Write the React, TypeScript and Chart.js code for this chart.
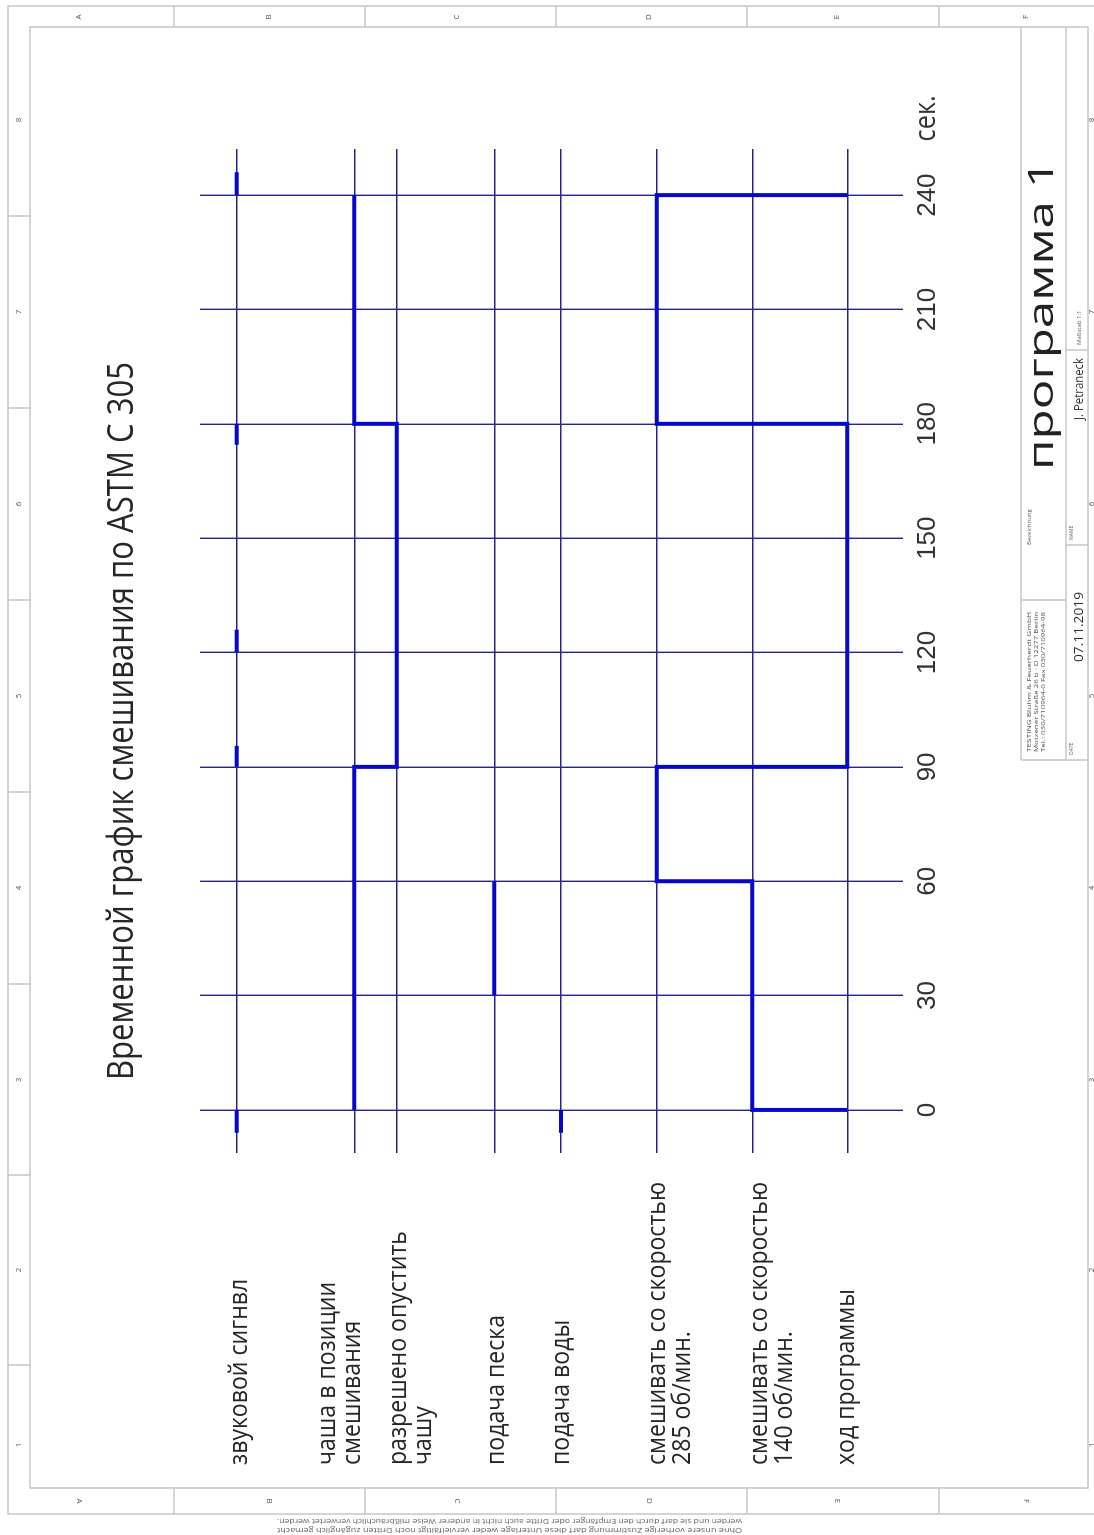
import React, { useEffect, useRef } from "react";
import { Chart, registerables } from "chart.js";

Chart.register(...registerables);

// ---------------- data ----------------
const title = "Временной график смешивания по ASTM C 305";
const laneLabels: string[][] = [
  ["звуковой сигнвл"],
  ["чаша в позиции", "смешивания"],
  ["разрешено опустить", "чашу"],
  ["подача песка"],
  ["подача воды"],
  ["смешивать со скоростью", "285 об/мин."],
  ["смешивать со скоростью", "140 об/мин."],
  ["ход программы"],
];
const timeTicks = [0, 30, 60, 90, 120, 150, 180, 210, 240];
const timeUnit = "сек.";
// short sound pulses [start, end] in seconds (lane 0)
const soundPulses: [number, number][] = [
  [-6, 0],
  [90, 95.5],
  [120, 126],
  [174.5, 180],
  [240, 246],
];
// bowl: lane index taken from each change time
const bowlTimes = [0, 90, 180, 240];
const bowlLanes = [1, 2, 1, 1];
// sand feed interval (lane 3)
const sandInterval = [30, 60];
// water feed interval (lane 4)
const waterInterval = [-6, 0];
// mixer speed state: lane index from each change time
const mixerTimes = [0, 0, 60, 90, 180, 240];
const mixerLanes = [7, 6, 5, 7, 5, 7];

const programName = "программа 1";
const author = "J. Petraneck";
const drawDate = "07.11.2019";
const scaleText = "Maßstab 1:1";
const company = [
  "TESTING Bluhm & Feuerherdt GmbH",
  "Motzener Straße 26 b · D 12277 Berlin",
  "Tel.: 030/710964-0 Fax 030/710964-98",
];
const disclaimer = [
  "Ohne unsere vorherige Zustimmung darf diese Unterlage weder vervielfältigt noch Dritten zugänglich gemacht",
  "werden und sie darf durch den Empfänger oder Dritte auch nicht in anderer Weise mißbräuchlich verwertet werden.",
];
const zoneLetters = ["A", "B", "C", "D", "E", "F"];
const zoneNumbers = ["8", "7", "6", "5", "4", "3", "2", "1"];

// ---------------- layout (not data) ----------------
const PAGE_W = 1094;
const PAGE_H = 1535;
const CW = PAGE_H; // canvas is drawn landscape and rotated
const CH = PAGE_W;
const LANE_BAND = 703;
const LANE_POS = [36.7, 154.3, 196.7, 294.3, 361, 456.7, 552.3, 647.3];
const LABEL_FIRST = [3, -26, 2, 3, 1, 1, 8, 0];
const LABEL_GAP = 25;
const ZONE_X_SEP = [174, 365, 556, 747, 939];
const ZONE_X_MID = [79, 269, 457, 649, 837, 1026];
const ZONE_Y_SEP = [216, 408, 600, 792, 984, 1175, 1365];
const ZONE_Y_MID = [120, 312, 504, 696, 888, 1080, 1270, 1445];

const FRAME = "#c6c6c6";
const GRID = "#25258c";
const SIGNAL = "#0707cc";
const TEXT = "#262626";
const FONT = '"Open Sans", "DejaVu Sans", sans-serif';
const NUM_FONT = '"Liberation Sans Narrow", "Liberation Sans", sans-serif';

type TOpt = {
  size: number;
  family?: string;
  rot?: number;
  align?: CanvasTextAlign;
  baseline?: CanvasTextBaseline;
  color?: string;
  width?: number;
  sx?: number;
};

function drawText(ctx: CanvasRenderingContext2D, text: string, x: number, y: number, o: TOpt) {
  ctx.save();
  ctx.translate(x, y);
  if (o.rot) ctx.rotate((o.rot * Math.PI) / 180);
  ctx.font = `${o.size}px ${o.family || FONT}`;
  ctx.fillStyle = o.color || TEXT;
  ctx.textAlign = o.align || "left";
  ctx.textBaseline = o.baseline || "alphabetic";
  if (o.width) {
    const w = ctx.measureText(text).width;
    if (w > 0) ctx.scale(o.width / w, 1);
  } else if (o.sx) {
    ctx.scale(o.sx, 1);
  }
  ctx.fillText(text, 0, 0);
  ctx.restore();
}

// page (portrait) coordinates -> canvas (landscape) coordinates
const cx = (py: number) => PAGE_H - py;
const cy = (px: number) => px;

function pageLine(ctx: CanvasRenderingContext2D, x1: number, y1: number, x2: number, y2: number) {
  ctx.beginPath();
  ctx.moveTo(cx(y1), cy(x1));
  ctx.lineTo(cx(y2), cy(x2));
  ctx.stroke();
}

function pageRect(ctx: CanvasRenderingContext2D, x1: number, y1: number, x2: number, y2: number) {
  ctx.strokeRect(cx(y2), cy(x1), y2 - y1, x2 - x1);
}

const framePlugin = {
  id: "drawingFrame",
  beforeDraw(chart: any) {
    const ctx: CanvasRenderingContext2D = chart.ctx;
    ctx.save();
    ctx.fillStyle = "#ffffff";
    ctx.fillRect(0, 0, chart.width, chart.height);
    ctx.strokeStyle = FRAME;
    ctx.lineWidth = 1.5;
    pageRect(ctx, 8, 6, 1120, 1514);
    pageRect(ctx, 30, 27, 1088, 1488);
    ZONE_X_SEP.forEach((x) => {
      pageLine(ctx, x, 6, x, 27);
      pageLine(ctx, x, 1488, x, 1514);
    });
    ZONE_Y_SEP.forEach((y) => {
      pageLine(ctx, 8, y, 30, y);
    });
    zoneLetters.forEach((l, i) => {
      drawText(ctx, l, cx(17), cy(ZONE_X_MID[i]), { size: 8, align: "center", baseline: "middle", color: "#555" });
      drawText(ctx, l, cx(1501), cy(ZONE_X_MID[i]), { size: 8, align: "center", baseline: "middle", color: "#555", rot: 180 });
    });
    zoneNumbers.forEach((n, i) => {
      drawText(ctx, n, cx(ZONE_Y_MID[i]), cy(19), { size: 8, align: "center", baseline: "middle", color: "#555" });
      drawText(ctx, n, cx(ZONE_Y_MID[i]), cy(1092), { size: 8, align: "center", baseline: "middle", color: "#555" });
    });
    // title block
    pageLine(ctx, 1021, 27, 1021, 760);
    pageLine(ctx, 1066, 27, 1066, 760);
    pageLine(ctx, 1021, 760, 1088, 760);
    pageLine(ctx, 1021, 600, 1066, 600);
    pageLine(ctx, 1066, 350, 1088, 350);
    pageLine(ctx, 1066, 545, 1088, 545);
    ctx.restore();
  },
  afterDraw(chart: any) {
    const ctx: CanvasRenderingContext2D = chart.ctx;
    const xs = chart.scales.x;
    const ys = chart.scales.y;
    ctx.save();
    // title
    drawText(ctx, title, cx(1080), 133, { size: 36, width: 718 });
    // lane labels
    ctx.font = `25px ${FONT}`;
    const ref = ctx.measureText("смешивать со скоростью").width;
    const sx = 283 / ref;
    laneLabels.forEach((lines, i) => {
      const base = ys.getPixelForValue(LANE_POS[i]) + LABEL_FIRST[i];
      lines.forEach((t, j) => {
        drawText(ctx, t, cx(1465), base + j * LABEL_GAP + 7, { size: 25, sx });
      });
    });
    // unit after the last tick
    const tickY = xs.top + 9 + 13;
    drawText(ctx, timeUnit, xs.getPixelForValue(252) + 8, tickY + 10, { size: 30, width: 46, color: "#333" });
    // title block texts
    drawText(ctx, programName, cx(470), cy(1053), { size: 34, width: 310, color: "#222" });
    drawText(ctx, scaleText, cx(345), cy(1081), { size: 6, color: "#666" });
    drawText(ctx, author, cx(420), cy(1083), { size: 12, width: 62, color: "#333" });
    drawText(ctx, "NAME", cx(540), cy(1073), { size: 5, color: "#666" });
    drawText(ctx, "Bezeichnung", cx(545), cy(1031), { size: 6, color: "#666" });
    company.forEach((t, i) => {
      drawText(ctx, t, cx(752), cy(1031 + i * 7), { size: 5.5, width: 140, color: "#555" });
    });
    drawText(ctx, drawDate, cx(662), cy(1083), { size: 13, width: 70, color: "#333" });
    drawText(ctx, "DATE", cx(755), cy(1073), { size: 5, color: "#666" });
    // disclaimer (upside down on the page)
    disclaimer.forEach((t, i) => {
      drawText(ctx, t, cx(1530 - i * 9), cy(742), { size: 8, width: 465, rot: -90, baseline: "middle", color: "#666" });
    });
    ctx.restore();
  },
};

const thick = {
  borderColor: SIGNAL,
  borderWidth: 4,
  pointRadius: 0,
  borderCapStyle: "butt" as const,
  borderJoinStyle: "miter" as const,
  fill: false,
  tension: 0,
};

export default function App() {
  const ref = useRef<HTMLCanvasElement | null>(null);

  useEffect(() => {
    if (!ref.current) return;
    const lanePt = (t: number, lane: number) => ({ x: t, y: LANE_POS[lane] });
    const datasets: any[] = [
      ...soundPulses.map(([a, b]) => ({
        ...thick,
        label: laneLabels[0][0],
        data: [lanePt(a, 0), lanePt(b, 0)],
      })),
      {
        ...thick,
        label: laneLabels[1].join(" "),
        stepped: "before",
        data: bowlTimes.map((t, i) => lanePt(t, bowlLanes[i])),
      },
      {
        ...thick,
        label: laneLabels[3][0],
        data: [lanePt(sandInterval[0], 3), lanePt(sandInterval[1], 3)],
      },
      {
        ...thick,
        label: laneLabels[4][0],
        data: [lanePt(waterInterval[0], 4), lanePt(waterInterval[1], 4)],
      },
      {
        ...thick,
        label: "mixer",
        stepped: "before",
        data: mixerTimes.map((t, i) => lanePt(t, mixerLanes[i])),
      },
    ];

    const chart = new Chart(ref.current, {
      type: "line",
      data: { datasets },
      options: {
        animation: false,
        responsive: false,
        devicePixelRatio: 1,
        events: [],
        layout: { padding: { left: 382, right: 149, top: 200, bottom: 0 } },
        plugins: { legend: { display: false }, tooltip: { enabled: false } },
        scales: {
          x: {
            type: "linear",
            position: "bottom",
            min: -11.3,
            max: 252.1,
            afterBuildTicks: (s: any) => {
              s.ticks = timeTicks.map((v) => ({ value: v }));
            },
            afterFit: (s: any) => {
              s.height = CH - 903;
              s.paddingLeft = 0;
              s.paddingRight = 0;
            },
            ticks: {
              autoSkip: false,
              maxRotation: 0,
              minRotation: 0,
              padding: 9,
              color: "#333",
              font: { family: NUM_FONT, size: 26 },
            },
            grid: { color: GRID, lineWidth: 1.4, drawTicks: false },
            border: { display: false },
          },
          y: {
            type: "linear",
            min: 0,
            max: LANE_BAND,
            reverse: true,
            afterBuildTicks: (s: any) => {
              s.ticks = LANE_POS.map((v) => ({ value: v }));
            },
            ticks: { display: false },
            grid: { color: GRID, lineWidth: 1.4, drawTicks: false },
            border: { display: false },
          },
        },
      },
      plugins: [framePlugin],
    });
    return () => chart.destroy();
  }, []);

  return (
    <div
      style={{
        position: "absolute",
        left: 0,
        top: 0,
        width: PAGE_W,
        height: PAGE_H,
        overflow: "hidden",
        background: "#ffffff",
      }}
    >
      <canvas
        ref={ref}
        width={CW}
        height={CH}
        style={{
          position: "absolute",
          left: 0,
          top: 0,
          width: CW,
          height: CH,
          transformOrigin: "0 0",
          transform: `translate(0px, ${PAGE_H}px) rotate(-90deg)`,
        }}
      />
    </div>
  );
}
